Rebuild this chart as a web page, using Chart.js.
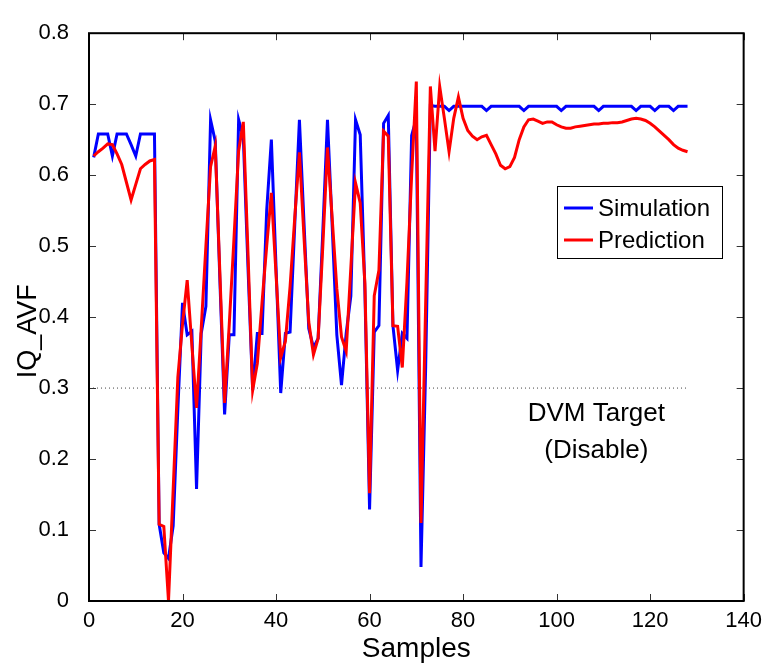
<!DOCTYPE html>
<html>
<head>
<meta charset="utf-8">
<script src="https://cdn.jsdelivr.net/npm/chart.js@4/dist/chart.umd.min.js"></script>
<style>
html,body{margin:0;padding:0;background:#fff;}
canvas{display:block;}
</style>
</head>
<body>
<canvas id="c" width="769" height="666"></canvas>
<script>
// ---- data ----
const samples = Array.from({length: 128}, (_, i) => i + 1);
const simulation = [
  0.625,0.658,0.658,0.658,0.627,0.658,0.658,0.658,0.643,0.627,
  0.658,0.658,0.658,0.658,0.108,0.068,0.060,0.106,0.270,0.420,
  0.375,0.380,0.158,0.377,0.415,0.678,0.648,0.450,0.263,0.375,
  0.375,0.678,0.653,0.470,0.297,0.377,0.377,0.550,0.650,0.470,
  0.293,0.377,0.379,0.530,0.678,0.530,0.384,0.357,0.370,0.520,
  0.678,0.530,0.375,0.304,0.377,0.430,0.678,0.657,0.438,0.129,
  0.379,0.388,0.673,0.684,0.388,0.325,0.377,0.370,0.656,0.680,
  0.048,0.330,0.698,0.697,0.697,0.697,0.691,0.697,0.697,0.697,
  0.697,0.697,0.697,0.697,0.691,0.697,0.697,0.697,0.697,0.697,
  0.697,0.697,0.691,0.697,0.697,0.697,0.697,0.697,0.697,0.697,
  0.691,0.697,0.697,0.697,0.697,0.697,0.697,0.697,0.691,0.697,
  0.697,0.697,0.697,0.697,0.697,0.697,0.691,0.697,0.697,0.697,
  0.691,0.697,0.697,0.697,0.691,0.697,0.697,0.697
];
const prediction = [
  0.627,0.633,0.638,0.644,0.643,0.630,0.615,0.590,0.565,0.587,
  0.609,0.615,0.620,0.622,0.108,0.105,0.000,0.157,0.315,0.390,
  0.452,0.360,0.272,0.384,0.500,0.612,0.641,0.460,0.279,0.390,
  0.510,0.634,0.675,0.490,0.297,0.335,0.420,0.500,0.575,0.460,
  0.343,0.366,0.443,0.540,0.632,0.510,0.393,0.347,0.370,0.500,
  0.639,0.540,0.440,0.372,0.352,0.470,0.589,0.561,0.448,0.152,
  0.430,0.466,0.662,0.655,0.388,0.387,0.329,0.450,0.600,0.732,
  0.110,0.420,0.725,0.634,0.725,0.680,0.633,0.680,0.710,0.680,
  0.663,0.655,0.650,0.654,0.656,0.643,0.630,0.614,0.609,0.612,
  0.625,0.650,0.668,0.678,0.679,0.676,0.673,0.675,0.675,0.671,
  0.668,0.666,0.666,0.668,0.669,0.670,0.671,0.672,0.672,0.673,
  0.673,0.674,0.674,0.675,0.677,0.679,0.680,0.679,0.677,0.673,
  0.668,0.662,0.656,0.650,0.643,0.638,0.635,0.633
];
const targetLevel = 0.3;
const targetSpan = [0, 128];
const targetText = ["DVM Target", "(Disable)"];
const targetTextPos = {x: 108.5, y: [0.264, 0.212]};
const xTicks = [0, 20, 40, 60, 80, 100, 120, 140];
const yTicks = [0, 0.1, 0.2, 0.3, 0.4, 0.5, 0.6, 0.7, 0.8];
const yTitle = 'IQ_AVF';
const yTitleValue = 0.38;

const FONT = "'Liberation Sans', Arial, Helvetica, sans-serif";

const overlay = {
  id: 'overlay',
  afterDraw(chart) {
    const {ctx, chartArea: a, scales: {x, y}} = chart;
    ctx.save();
    // inward tick marks on all four sides
    ctx.strokeStyle = '#333';
    ctx.lineWidth = 1;
    ctx.beginPath();
    x.ticks.forEach(t => {
      const px = Math.round(x.getPixelForValue(t.value)) + 0.5;
      ctx.moveTo(px, a.bottom); ctx.lineTo(px, a.bottom - 7);
      ctx.moveTo(px, a.top); ctx.lineTo(px, a.top + 7);
    });
    y.ticks.forEach(t => {
      const py = Math.round(y.getPixelForValue(t.value)) + 0.5;
      ctx.moveTo(a.left, py); ctx.lineTo(a.left + 7, py);
      ctx.moveTo(a.right, py); ctx.lineTo(a.right - 7, py);
    });
    ctx.stroke();
    // frame
    ctx.strokeStyle = '#000';
    ctx.lineWidth = 2;
    ctx.strokeRect(a.left, a.top, a.width, a.height);

    // y axis title
    ctx.save();
    ctx.fillStyle = '#000';
    ctx.font = '27px ' + FONT;
    ctx.textAlign = 'center';
    ctx.textBaseline = 'middle';
    ctx.translate(29, y.getPixelForValue(yTitleValue));
    ctx.rotate(-Math.PI / 2);
    ctx.fillText(yTitle, 0, 0);
    ctx.restore();

    // annotation text
    ctx.fillStyle = '#000';
    ctx.font = '26px ' + FONT;
    ctx.textAlign = 'center';
    ctx.textBaseline = 'middle';
    targetText.forEach((s, i) => {
      ctx.fillText(s, x.getPixelForValue(targetTextPos.x), y.getPixelForValue(targetTextPos.y[i]));
    });

    // legend box
    const lx = 557, ly = 186, lw = 165, lh = 72;
    ctx.fillStyle = '#fff';
    ctx.fillRect(lx, ly, lw, lh);
    ctx.strokeStyle = '#000';
    ctx.lineWidth = 1;
    ctx.strokeRect(lx + 0.5, ly + 0.5, lw, lh);
    const items = chart.data.datasets.filter(d => d.inLegend);
    items.sort((p, q) => p.legendIndex - q.legendIndex);
    ctx.font = '24px ' + FONT;
    ctx.textAlign = 'left';
    items.forEach((d, i) => {
      const yy = ly + 22 + i * 32;
      ctx.strokeStyle = d.borderColor;
      ctx.lineWidth = 3;
      ctx.beginPath();
      ctx.moveTo(lx + 7, yy); ctx.lineTo(lx + 36, yy);
      ctx.stroke();
      ctx.fillStyle = '#000';
      ctx.fillText(d.label, lx + 41, yy + 1);
    });
    ctx.restore();
  }
};

new Chart(document.getElementById('c'), {
  type: 'line',
  data: {
    datasets: [
      {
        label: 'Prediction',
        data: samples.map((s, i) => ({x: s, y: prediction[i]})),
        borderColor: '#ff0000',
        borderWidth: 3,
        pointRadius: 0,
        tension: 0,
        order: 0,
        inLegend: true, legendIndex: 1
      },
      {
        label: 'Simulation',
        data: samples.map((s, i) => ({x: s, y: simulation[i]})),
        borderColor: '#0000ff',
        borderWidth: 3,
        pointRadius: 0,
        tension: 0,
        order: 1,
        inLegend: true, legendIndex: 0
      },
      {
        label: 'target',
        data: targetSpan.map(s => ({x: s, y: targetLevel})),
        borderColor: '#444',
        borderWidth: 1,
        borderDash: [1, 3],
        pointRadius: 0,
        order: 2,
        inLegend: false
      }
    ]
  },
  options: {
    responsive: false,
    animation: false,
    devicePixelRatio: 1,
    layout: {padding: {top: 17, right: 22, left: 0, bottom: 0}},
    plugins: {legend: {display: false}, tooltip: {enabled: false}},
    scales: {
      x: {
        type: 'linear', min: 0, max: 140,
        afterBuildTicks: s => { s.ticks = xTicks.map(v => ({value: v})); },
        afterFit: s => { s.height = 65; },
        grid: {display: false, drawTicks: false},
        border: {display: false},
        ticks: {color: '#000', font: {size: 22, family: FONT}, padding: 7, maxRotation: 0, autoSkip: false},
        title: {display: true, text: 'Samples', color: '#000', font: {size: 28, family: FONT}, padding: {top: 0, bottom: 0}}
      },
      y: {
        type: 'linear', min: 0, max: 0.8,
        afterBuildTicks: s => { s.ticks = yTicks.map(v => ({value: v})); },
        afterFit: s => { s.width = 89; },
        grid: {display: false, drawTicks: false},
        border: {display: false},
        ticks: {color: '#000', font: {size: 22, family: FONT}, padding: 20, autoSkip: false,
                callback: v => String(Math.round(v * 10) / 10)},
        title: {display: false}
      }
    }
  },
  plugins: [overlay]
});
</script>
</body>
</html>
